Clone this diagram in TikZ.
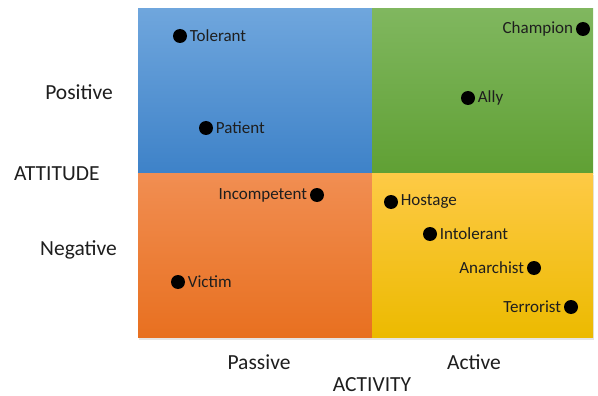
\documentclass[tikz,border=0pt]{standalone}
\usepackage{fontspec}
\setmainfont{Carlito}
\definecolor{bluetop}{RGB}{111,166,221}
\definecolor{bluebot}{RGB}{62,130,200}
\definecolor{greentop}{RGB}{128,183,95}
\definecolor{greenbot}{RGB}{96,160,52}
\definecolor{orangetop}{RGB}{241,142,82}
\definecolor{orangebot}{RGB}{232,112,32}
\definecolor{yellowtop}{RGB}{254,202,70}
\definecolor{yellowbot}{RGB}{236,186,0}
\definecolor{labelc}{RGB}{30,30,30}
\tikzset{
  dot/.style={circle, fill=black, minimum size=14pt, inner sep=0pt},
  item/.style={font=\fontsize{17}{19}\selectfont, text=labelc, inner xsep=2.5pt, inner ysep=1pt},
  axislabel/.style={font=\fontsize{21.5}{24}\selectfont, text=labelc, inner sep=0pt},
}
\begin{document}
\begin{tikzpicture}[x=1pt,y=-1pt]
\useasboundingbox (0,0) rectangle (598,396);
% soft shadow
\fill[black!10] (139,175) rectangle (594,339.5);
% quadrants
\shade[top color=bluetop, bottom color=bluebot] (138,9) rectangle (372,173);
\shade[top color=greentop, bottom color=greenbot] (372,9) rectangle (593,173);
\shade[top color=orangetop, bottom color=orangebot] (138,173) rectangle (372,337);
\shade[top color=yellowtop, bottom color=yellowbot] (372,173) rectangle (593,337);
% dots and labels
\node[dot] (tol) at (180,36) {};
\node[item, anchor=west] (toll) at (tol.east) {Tolerant};
\node[dot] (pat) at (206,128) {};
\node[item, anchor=west] (patl) at (pat.east) {Patient};
\node[dot] (cha) at (583,29) {};
\node[item, anchor=east] (chal) at (cha.west) {Champion};
\node[dot] (ally) at (468,98) {};
\node[item, anchor=west] (allyl) at (ally.east) {Ally};
\node[dot] (inc) at (317,195) {};
\node[item, anchor=east] (incl) at (inc.west) {Incompetent};
\node[dot] (vic) at (178,282) {};
\node[item, anchor=west] (vicl) at (vic.east) {Victim};
\node[dot] (hos) at (391,202) {};
\node[item, anchor=west] (hosl) at (hos.east) {Hostage};
\node[dot] (intl) at (430,234) {};
\node[item, anchor=west] (intll) at (intl.east) {Intolerant};
\node[dot] (ana) at (534,268) {};
\node[item, anchor=east] (anal) at (ana.west) {Anarchist};
\node[dot] (ter) at (571,307) {};
\node[item, anchor=east] (terl) at (ter.west) {Terrorist};
% axis labels
\node[axislabel, anchor=east] (pos) at (113,92) {Positive};
\node[axislabel, anchor=west] (att) at (14,174) {ATTITUDE};
\node[axislabel, anchor=east] (neg) at (117,250) {Negative};
\node[axislabel] (pas) at (259,362) {Passive};
\node[axislabel] (act) at (474,362) {Active};
\node[axislabel] (acty) at (372,385) {ACTIVITY};
\end{tikzpicture}
\end{document}
